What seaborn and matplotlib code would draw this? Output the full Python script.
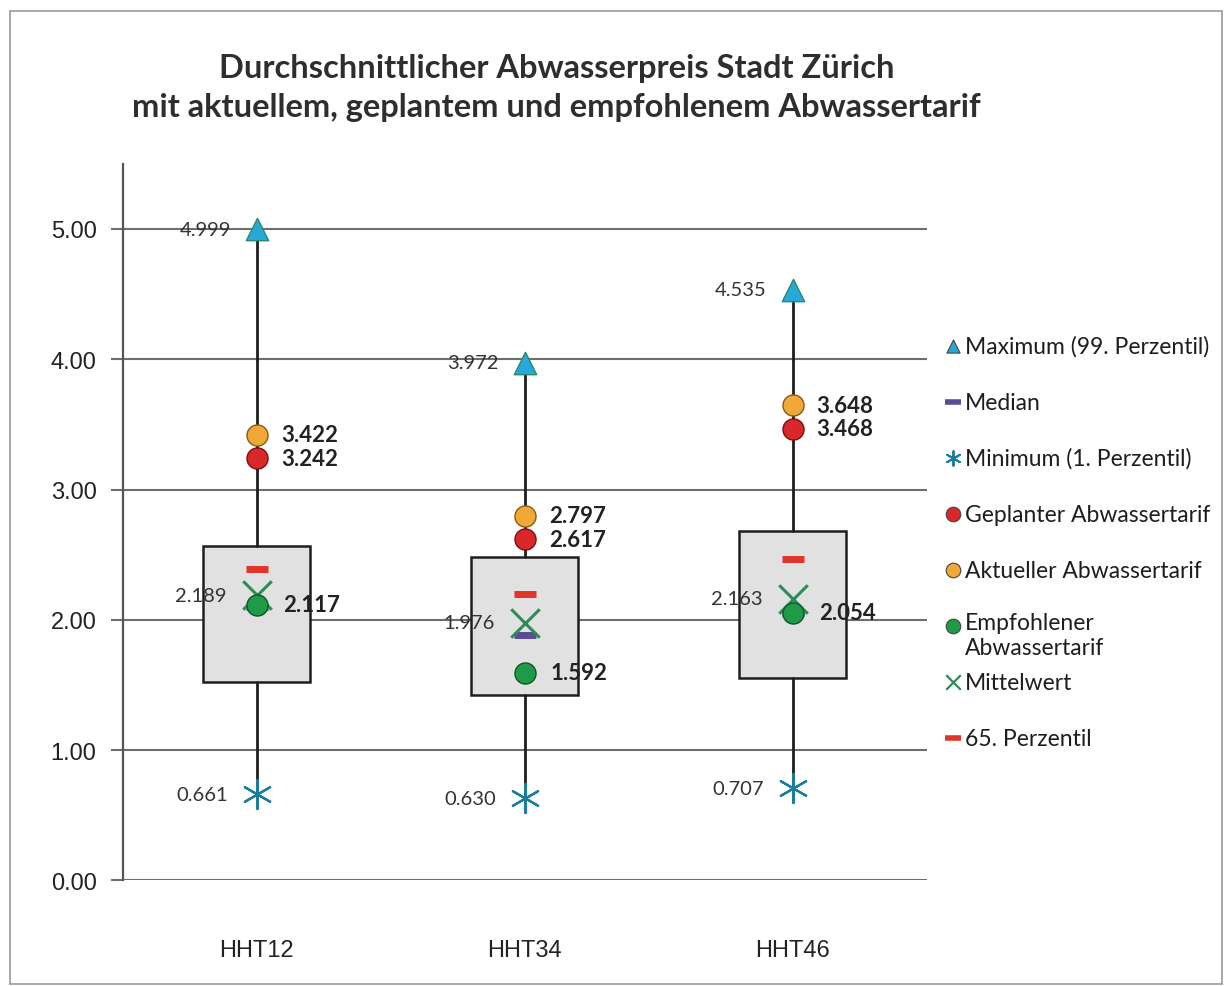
import numpy as np
import pandas as pd
import matplotlib
matplotlib.use('Agg')
import matplotlib.pyplot as plt
import seaborn as sns
from matplotlib.patches import Rectangle

# Werte
categories = ['HHT12', 'HHT34', 'HHT46']
maximum = [4.999, 3.972, 4.535]       # 99. Perzentil
minimum = [0.661, 0.630, 0.707]       # 1. Perzentil
q1 = [1.52, 1.42, 1.55]
q3 = [2.57, 2.48, 2.68]
median = [2.10, 1.88, 2.05]
p65 = [2.39, 2.20, 2.47]
mittelwert = [2.189, 1.976, 2.163]
aktuell = [3.422, 2.797, 3.648]
geplant = [3.242, 2.617, 3.468]
empfohlen = [2.117, 1.592, 2.054]
yticks = [0, 1, 2, 3, 4, 5]

title = ('Durchschnittlicher Abwasserpreis Stadt Zürich\n'
         'mit aktuellem, geplantem und empfohlenem Abwassertarif')

sns.set_style('white')
plt.rcParams['font.family'] = ['Lato', 'DejaVu Sans']

W, H, DPI = 1229, 987, 100
PX = 72 / DPI  # Pixel -> Punkte

fig = plt.figure(figsize=(W / DPI, H / DPI), dpi=DPI)
ax = fig.add_axes([0.100, 0.107, 0.654, 0.726])

df = pd.DataFrame({'kat': categories, 'max': maximum, 'min': minimum,
                   'median': median, 'p65': p65, 'mittel': mittelwert,
                   'aktuell': aktuell, 'geplant': geplant, 'empf': empfohlen})

# Punkte (Reihenfolge = Zeichenreihenfolge)
sns.scatterplot(data=df, x='kat', y='p65', marker='_', color='#e0352b',
                s=260, linewidth=5, zorder=4, ax=ax)
sns.scatterplot(data=df, x='kat', y='median', marker='_', color='#5b4a96',
                s=260, linewidth=5, zorder=4, ax=ax)
sns.scatterplot(data=df, x='kat', y='mittel', marker='x', color='#2e8b57',
                s=420, linewidth=2.2, zorder=5, ax=ax)
sns.scatterplot(data=df, x='kat', y='aktuell', marker='o', color='#f0a838',
                edgecolor='#8a5a10', s=230, linewidth=1, zorder=5, ax=ax)
sns.scatterplot(data=df, x='kat', y='geplant', marker='o', color='#d8282a',
                edgecolor='#7a1010', s=230, linewidth=1, zorder=5, ax=ax)
sns.scatterplot(data=df, x='kat', y='empf', marker='o', color='#1f9a48',
                edgecolor='#0b5a28', s=230, linewidth=1, zorder=6, ax=ax)
sns.scatterplot(data=df, x='kat', y='max', marker='^', color='#28a8d6',
                edgecolor='#2a8a70', s=260, linewidth=1, zorder=5, ax=ax)
sns.scatterplot(data=df, x='kat', y='min', marker=(6, 2, 0), color='#1b7d9e',
                s=440, linewidth=1.6, zorder=5, ax=ax)

# Boxen mit Whiskern bis Min/Max
stats = [dict(med=m, q1=a, q3=b, whislo=lo, whishi=hi, fliers=[])
         for m, a, b, lo, hi in zip(median, q1, q3, minimum, maximum)]
ax.bxp(stats, positions=range(len(categories)), widths=0.4, patch_artist=True,
       showcaps=False, showfliers=False, manage_ticks=False,
       boxprops=dict(facecolor='#e1e1e1', edgecolor='#1e1e1e', linewidth=1.8),
       whiskerprops=dict(color='#1e1e1e', linewidth=2),
       medianprops=dict(linewidth=0), zorder=2)

# Beschriftungen
small = dict(fontsize=14.5, color='#333333', va='center', ha='right')
bold = dict(fontsize=16, fontweight='bold', color='#222222', va='center', ha='left')
for i in range(len(categories)):
    ax.annotate(f'{maximum[i]:.3f}', (i, maximum[i]), xytext=(-26 * PX, 0),
                textcoords='offset points', **small)
    ax.annotate(f'{minimum[i]:.3f}', (i, minimum[i]), xytext=(-29 * PX, 0),
                textcoords='offset points', **small)
    ax.annotate(f'{mittelwert[i]:.3f}', (i, mittelwert[i]), xytext=(-30 * PX, 0),
                textcoords='offset points', **small)
    ax.annotate(f'{empfohlen[i]:.3f}', (i, empfohlen[i]), xytext=(26 * PX, 0),
                textcoords='offset points', **bold)
    ax.annotate(f'{aktuell[i]:.3f}', (i, aktuell[i]), xytext=(24 * PX, 0),
                textcoords='offset points', **bold)
    ax.annotate(f'{geplant[i]:.3f}', (i, geplant[i]), xytext=(24 * PX, 0),
                textcoords='offset points', **bold)

# Achsen
ax.set_xlim(-0.5, len(categories) - 0.5)
ax.set_ylim(0, 5.5)
ax.set_yticks(yticks)
ax.set_yticklabels([f'{t:.2f}' for t in yticks], fontfamily='Liberation Sans')
ax.set_xticks(range(len(categories)))
ax.set_xticklabels(categories, fontfamily='Liberation Sans')
ax.set_xlabel('')
ax.set_ylabel('')
ax.grid(axis='y', color='#6e6e6e', linewidth=1.5)
ax.set_axisbelow(True)
ax.tick_params(axis='y', length=9, width=1.5, color='#6e6e6e', labelsize=17,
               labelcolor='#222222', pad=10, left=True)
ax.tick_params(axis='x', length=0, pad=42, labelsize=17, labelcolor='#222222')
for s in ['top', 'right', 'bottom']:
    ax.spines[s].set_visible(False)
ax.spines['left'].set_color('#555555')
ax.spines['left'].set_linewidth(1.6)

# Titel
fig.text(0.453, 0.911, title, ha='center', va='center', fontsize=23.5,
         fontweight='bold', color='#2e2e2e', linespacing=1.4)

# Legende (rechts, manuell in Pixelkoordinaten)
lax = fig.add_axes([0, 0, 1, 1])
lax.set_xlim(0, W)
lax.set_ylim(H, 0)
lax.axis('off')
lax.patch.set_alpha(0)
legend_items = [
    ('Maximum (99. Perzentil)', '^', '#28a8d6', 90, 1),
    ('Median', '_', '#5b4a96', 130, 4),
    ('Minimum (1. Perzentil)', (6, 2, 0), '#1b7d9e', 110, 1.4),
    ('Geplanter Abwassertarif', 'o', '#d8282a', 110, 1),
    ('Aktueller Abwassertarif', 'o', '#f0a838', 110, 1),
    ('Empfohlener\nAbwassertarif', 'o', '#1f9a48', 110, 1),
    ('Mittelwert', 'x', '#2e8b57', 110, 1.6),
    ('65. Perzentil', '_', '#e0352b', 130, 4),
]
row_y = 347
for label, mk, col, size, lw in legend_items:
    if mk in ('o', '^'):
        lax.scatter([953], [row_y], marker=mk, s=size, color=col,
                    edgecolors='#444444', linewidths=0.8)
    else:
        lax.scatter([953], [row_y], marker=mk, s=size, color=col, linewidths=lw)
    if '\n' in label:
        lax.text(965, row_y - 14, label, ha='left', va='top', fontsize=16.5,
                 color='#1e1e1e', linespacing=1.25)
    else:
        lax.text(965, row_y, label, ha='left', va='center', fontsize=16.5,
                 color='#1e1e1e')
    row_y += 56

# Rahmen um die ganze Grafik
fig.patches.append(Rectangle((10 / W, 2 / H), 1212 / W, 973 / H, fill=False,
                             edgecolor='#9a9a9a', linewidth=1.2,
                             transform=fig.transFigure))

fig.savefig('out.png', dpi=DPI)
